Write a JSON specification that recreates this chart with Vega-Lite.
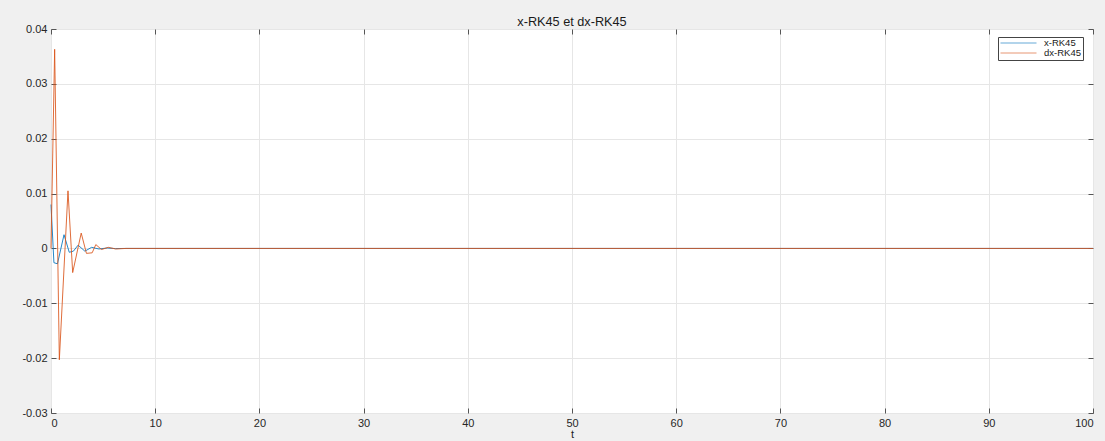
{
  "$schema": "https://vega.github.io/schema/vega-lite/v6.json",
  "autosize": {"type": "none"},
  "padding": {"left": 51, "top": 29, "right": 12, "bottom": 28},
  "width": 1042,
  "height": 384,
  "background": "#F0F0F0",
  "title": {"text": "x-RK45 et dx-RK45", "fontSize": 12.7, "fontWeight": "normal", "font": "Liberation Sans", "color": "#1a1a1a", "anchor": "middle", "offset": 3, "dy": 9},
  "data": {"values": [
    {"t": 0, "value": 0.008, "series": "x-RK45"},
    {"t": 0.28, "value": -0.0026, "series": "x-RK45"},
    {"t": 0.62, "value": -0.0028, "series": "x-RK45"},
    {"t": 1.25, "value": 0.0025, "series": "x-RK45"},
    {"t": 1.75, "value": -0.0007, "series": "x-RK45"},
    {"t": 2.15, "value": -0.0005, "series": "x-RK45"},
    {"t": 2.6, "value": 0.0006, "series": "x-RK45"},
    {"t": 3.25, "value": -0.0005, "series": "x-RK45"},
    {"t": 3.9, "value": 0.0002, "series": "x-RK45"},
    {"t": 4.6, "value": -0.0001, "series": "x-RK45"},
    {"t": 5.4, "value": 0.00008, "series": "x-RK45"},
    {"t": 6.2, "value": -0.00003, "series": "x-RK45"},
    {"t": 7.2, "value": 0, "series": "x-RK45"},
    {"t": 100, "value": 0, "series": "x-RK45"},
    {"t": 0, "value": 0, "series": "dx-RK45"},
    {"t": 0.35, "value": 0.0363, "series": "dx-RK45"},
    {"t": 0.8, "value": -0.0203, "series": "dx-RK45"},
    {"t": 1.63, "value": 0.0105, "series": "dx-RK45"},
    {"t": 2.08, "value": -0.0044, "series": "dx-RK45"},
    {"t": 2.9, "value": 0.0028, "series": "dx-RK45"},
    {"t": 3.4, "value": -0.0009, "series": "dx-RK45"},
    {"t": 3.95, "value": -0.0008, "series": "dx-RK45"},
    {"t": 4.3, "value": 0.0007, "series": "dx-RK45"},
    {"t": 4.85, "value": -0.0002, "series": "dx-RK45"},
    {"t": 5.5, "value": 0.0002, "series": "dx-RK45"},
    {"t": 6.2, "value": -0.0001, "series": "dx-RK45"},
    {"t": 7.2, "value": 0, "series": "dx-RK45"},
    {"t": 100, "value": 0, "series": "dx-RK45"}
  ]},
  "layer": [
    {
      "mark": {"type": "line", "strokeWidth": 1, "opacity": 0.85, "interpolate": "linear"},
      "encoding": {
        "x": {"field": "t", "type": "quantitative", "scale": {"domain": [0, 100], "nice": false, "zero": false},
              "axis": {"orient": "bottom", "title": "t", "values": [0,10,20,30,40,50,60,70,80,90,100], "tickSize": -5, "labelPadding": 9, "titlePadding": 0}},
        "y": {"field": "value", "type": "quantitative", "scale": {"domain": [-0.03, 0.04], "nice": false, "zero": false},
              "axis": {"orient": "left", "title": null, "values": [-0.03,-0.02,-0.01,0,0.01,0.02,0.03,0.04], "tickSize": -5, "labelPadding": 9,
                       "labelExpr": "replace(format(datum.value, '.2~f'), '\u2212', '-')"}},
        "color": {"field": "series", "type": "nominal",
                  "scale": {"domain": ["x-RK45", "dx-RK45"], "range": ["#0072BD", "#D95319"]},
                  "legend": {"title": null, "orient": "none", "legendX": 947, "legendY": 8, "direction": "vertical",
                             "symbolType": "stroke", "symbolSize": 1296, "symbolStrokeWidth": 1, "symbolOpacity": 0.6, "clipHeight": 8,
                             "labelFontSize": 9.5, "labelFont": "Liberation Sans", "labelColor": "#1a1a1a", "labelOffset": 7,
                             "rowPadding": 0, "padding": 2, "strokeColor": "#444444", "fillColor": "#ffffff", "cornerRadius": 0}},
        "order": {"field": "t", "type": "quantitative"}
      }
    },
    {
      "mark": {"type": "point", "opacity": 0},
      "encoding": {
        "x": {"field": "t", "type": "quantitative",
              "axis": {"orient": "top", "title": null, "labels": false, "grid": false, "values": [0,10,20,30,40,50,60,70,80,90,100], "tickSize": -5}},
        "y": {"field": "value", "type": "quantitative",
              "axis": {"orient": "right", "title": null, "labels": false, "grid": false, "values": [-0.03,-0.02,-0.01,0,0.01,0.02,0.03,0.04], "tickSize": -5}}
      }
    }
  ],
  "resolve": {"axis": {"x": "independent", "y": "independent"}},
  "config": {
    "view": {"fill": "#ffffff", "stroke": "#555555", "strokeWidth": 1},
    "axis": {"domain": false, "gridColor": "#e6e6e6", "gridWidth": 1, "tickColor": "#555555", "tickWidth": 1,
             "labelFont": "Liberation Sans", "labelFontSize": 11, "labelColor": "#262626",
             "titleFont": "Liberation Sans", "titleFontSize": 11, "titleFontWeight": "normal", "titleColor": "#1a1a1a"}
  }
}
